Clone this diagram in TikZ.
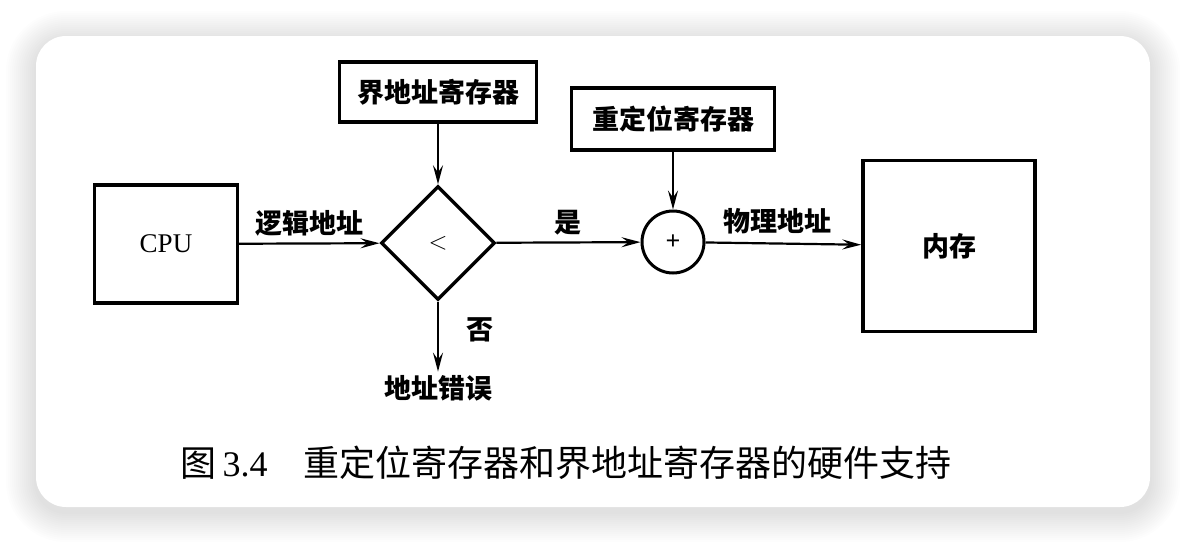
\documentclass[tikz,border=0pt]{standalone}
\usepackage{fontspec}
\setmainfont{Liberation Serif}
\newfontfamily\cjk{Noto Sans CJK SC}
\usetikzlibrary{shapes.geometric,arrows.meta}

\begin{document}
\begin{tikzpicture}[x=1pt,y=-1pt,
    box/.style={draw,line width=3.4pt,inner sep=0pt},
    lbl/.style={font=\cjk\bfseries\fontsize{27}{27}\selectfont},
    arr/.style={line width=2.2pt,-{Stealth[length=19pt,width=10pt,inset=7pt]}}]
      \useasboundingbox (0,0) rectangle (1186,544);
      \fill[white] (0,0) rectangle (1186,544);
      \foreach \s in {2,4,...,30}
        \fill[black,opacity=0.007,rounded corners={(30+\s)*1pt}]
          (36-\s,36-\s+5) rectangle (1150+\s,507+\s+5);
      \fill[white,rounded corners=30pt] (36,36) rectangle (1150,507);
      \node[box,minimum width=143pt,minimum height=118pt,
        font=\fontsize{27}{27}\selectfont] (cpu) at (166,244) {CPU};
      \node[box,lbl,minimum width=197pt,minimum height=60pt] (bound) at (438,92) {界地址寄存器};
      \node[box,diamond,aspect=1,minimum width=114pt,minimum height=114pt,
        font=\fontsize{30}{30}\selectfont] (cmp) at (438,243) {$<$};
      \node[box,circle,line width=3pt,minimum size=62pt,
        font=\bfseries\fontsize{26}{26}\selectfont] (add) at (673,242) {+};
      \node[box,lbl,minimum width=203pt,minimum height=62pt] (reloc) at (673,119) {重定位寄存器};
      \node[box,lbl,minimum width=172pt,minimum height=171pt] (mem) at (949,246) {内存};
      \node[lbl] (err) at (438,388) {地址错误};
      \draw[arr] (cpu) -- node[lbl,above=3pt]{逻辑地址} (cmp);
      \draw[arr] (bound) -- (cmp);
      \draw[arr] (cmp) -- node[lbl,above=3pt]{是} (add);
      \draw[arr] (reloc) -- (add);
      \draw[arr] (add) -- node[lbl,above=5pt,xshift=-6pt]{物理地址} (mem);
      \draw[arr] (cmp) -- node[lbl,pos=0.4,right=24pt]{否} (err);
      \node[font=\fontsize{36}{36}\selectfont] (caption) at (566,463)
        {{\cjk 图}\,3.4\quad{\cjk 重定位寄存器和界地址寄存器的硬件支持}};
    \end{tikzpicture}
\end{document}
